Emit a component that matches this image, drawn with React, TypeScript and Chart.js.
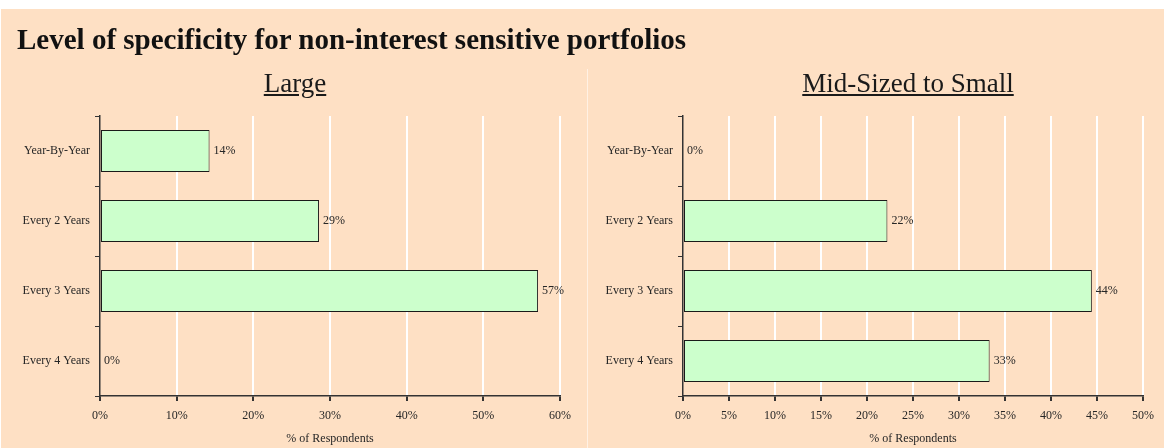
import React, { useEffect, useRef } from 'react';
import { Chart, registerables } from 'chart.js';

Chart.register(...registerables);

const categories = ['Year-By-Year', 'Every 2 Years', 'Every 3 Years', 'Every 4 Years'];
const largeValues = [14.29, 28.57, 57.14, 0];
const midSmallValues = [0, 22.22, 44.44, 33.33];
const largeAxisMax = 60;
const largeAxisStep = 10;
const midSmallAxisMax = 50;
const midSmallAxisStep = 5;
const titleText = 'Level of specificity for non-interest sensitive portfolios';
const largeTitle = 'Large';
const midSmallTitle = 'Mid-Sized to Small';
const axisTitle = '% of Respondents';

const FONT = '"Liberation Serif", "Times New Roman", serif';
const TEXT = '#262626';
const AXIS = '#333333';

const valueLabels = {
  id: 'valueLabels',
  afterDatasetsDraw(chart: any) {
    const ctx = chart.ctx;
    const meta = chart.getDatasetMeta(0);
    const data = chart.data.datasets[0].data as number[];
    ctx.save();
    ctx.font = `12px ${FONT}`;
    ctx.fillStyle = TEXT;
    ctx.textAlign = 'left';
    ctx.textBaseline = 'middle';
    meta.data.forEach((el: any, i: number) => {
      ctx.fillText(`${Math.round(data[i])}%`, el.x + 4, el.y);
    });
    ctx.restore();
  },
};

type PanelProps = {
  values: number[];
  max: number;
  step: number;
  width: number;
  yAxisWidth: number;
  padRight: number;
};

function Panel({ values, max, step, width, yAxisWidth, padRight }: PanelProps) {
  const ref = useRef<HTMLCanvasElement | null>(null);
  useEffect(() => {
    if (!ref.current) return;
    const chart = new Chart(ref.current, {
      type: 'bar',
      data: {
        labels: categories,
        datasets: [
          {
            data: values,
            backgroundColor: '#CCFFCC',
            borderColor: '#1a1a1a',
            borderWidth: 1,
            borderSkipped: false,
            barPercentage: 0.6,
            categoryPercentage: 1,
          },
        ],
      },
      options: {
        indexAxis: 'y',
        responsive: false,
        animation: false,
        devicePixelRatio: 1,
        layout: { padding: { top: 116, right: padRight, bottom: 0, left: 0 } },
        plugins: {
          legend: { display: false },
          tooltip: { enabled: false },
          title: { display: false },
        },
        scales: {
          x: {
            min: 0,
            max: max,
            ticks: {
              stepSize: step,
              padding: 8,
              color: TEXT,
              font: { family: FONT, size: 12 },
              callback: (v: any) => `${v}%`,
            },
            grid: {
              color: (c: any) => (c.tick && c.tick.value === 0 ? 'rgba(0,0,0,0)' : '#ffffff'),
              lineWidth: 2,
              tickColor: AXIS,
              tickLength: 5,
              drawTicks: true,
            },
            border: { display: true, color: AXIS, width: 1.5 },
            title: {
              display: true,
              text: axisTitle,
              color: TEXT,
              font: { family: FONT, size: 12 },
              padding: { top: 0, bottom: 2 },
            },
            afterFit: (s: any) => {
              s.height = 52;
            },
          },
          y: {
            ticks: {
              padding: 5,
              color: TEXT,
              font: { family: FONT, size: 12 },
            },
            grid: {
              drawOnChartArea: false,
              drawTicks: true,
              tickLength: 5,
              tickColor: AXIS,
              color: AXIS,
              offset: true,
            },
            border: { display: true, color: AXIS, width: 1.5 },
            afterFit: (s: any) => {
              s.width = yAxisWidth;
            },
          },
        },
      },
      plugins: [valueLabels],
    } as any);
    return () => chart.destroy();
  }, []);
  return <canvas ref={ref} width={width} height={448} style={{ width, height: 448, display: 'block' }} />;
}

export default function App() {
  return (
    <div
      style={{
        position: 'absolute',
        left: 0,
        top: 0,
        width: 1164,
        height: 448,
        background: '#ffffff',
        overflow: 'hidden',
      }}
    >
      <div
        style={{
          position: 'absolute',
          left: 1,
          top: 9,
          width: 1163,
          height: 439,
          background: '#FEE0C4',
        }}
      />
      <div
        style={{
          position: 'absolute',
          left: 587,
          top: 69,
          width: 1,
          height: 379,
          background: 'rgba(255,255,255,0.55)',
        }}
      />
      <div style={{ position: 'absolute', left: 0, top: 0 }}>
        <Panel values={largeValues} max={largeAxisMax} step={largeAxisStep} width={588} yAxisWidth={100} padRight={28} />
      </div>
      <div style={{ position: 'absolute', left: 588, top: 0 }}>
        <Panel values={midSmallValues} max={midSmallAxisMax} step={midSmallAxisStep} width={576} yAxisWidth={95} padRight={21} />
      </div>
      <div
        style={{
          position: 'absolute',
          left: 17,
          top: 25,
          font: `bold 29px ${FONT}`,
          lineHeight: '29px',
          color: '#111',
          whiteSpace: 'nowrap',
        }}
      >
        {titleText}
      </div>
      <div
        style={{
          position: 'absolute',
          left: 0,
          top: 70,
          width: 590,
          textAlign: 'center',
          font: `27px ${FONT}`,
          lineHeight: '27px',
          color: '#1a1a1a',
          textDecoration: 'underline',
          whiteSpace: 'nowrap',
        }}
      >
        {largeTitle}
      </div>
      <div
        style={{
          position: 'absolute',
          left: 588,
          top: 70,
          width: 640,
          textAlign: 'center',
          font: `27px ${FONT}`,
          lineHeight: '27px',
          color: '#1a1a1a',
          textDecoration: 'underline',
          whiteSpace: 'nowrap',
        }}
      >
        {midSmallTitle}
      </div>
    </div>
  );
}
